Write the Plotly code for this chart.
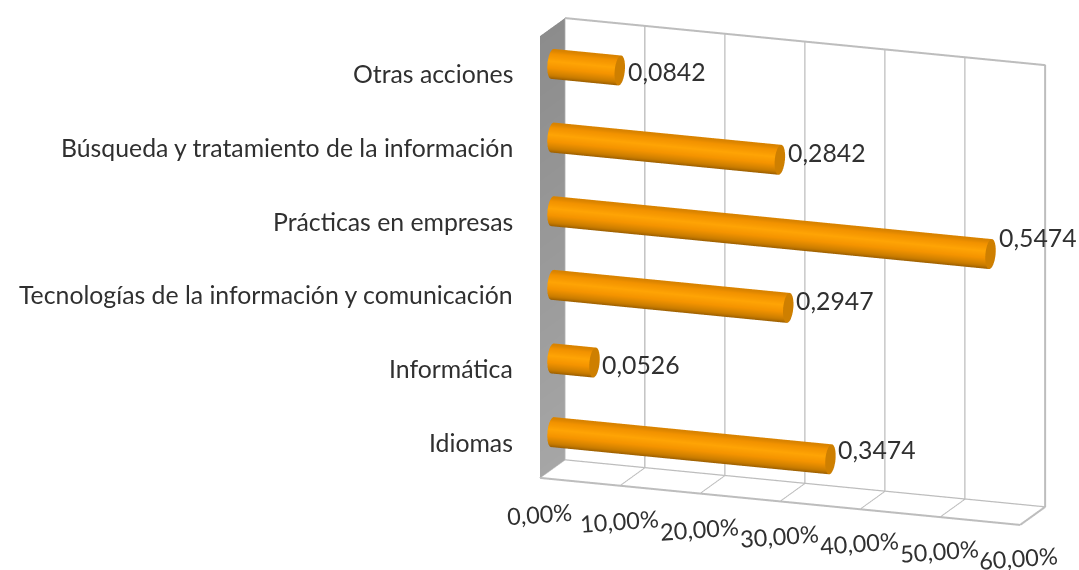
import numpy as np
import plotly.graph_objects as go

categories = ["Idiomas", "Informática", "Tecnologías de la información y comunicación",
              "Prácticas en empresas", "Búsqueda y tratamiento de la información", "Otras acciones"]
values = [0.3474, 0.0526, 0.2947, 0.5474, 0.2842, 0.0842]
value_labels = ["0,3474", "0,0526", "0,2947", "0,5474", "0,2842", "0,0842"]
x_ticks = [0, 0.1, 0.2, 0.3, 0.4, 0.5, 0.6]
x_tick_labels = ["0,00%", "10,00%", "20,00%", "30,00%", "40,00%", "50,00%", "60,00%"]

# camera / box geometry
THETA = np.radians(20.25)
ELEV = np.radians(15.4)
ASPECT = dict(x=1.796, y=0.2533, z=1.608)
DIST = 2.0
S_GUESS = 285.0
r_vec = np.array([np.cos(THETA), np.sin(THETA), 0])
u_vec = np.array([-np.sin(ELEV) * np.sin(THETA), np.sin(ELEV) * np.cos(THETA), np.cos(ELEV)])
center = -(253 / S_GUESS) * r_vec - (13.5 / S_GUESS) * u_vec
eye = np.array([np.sin(THETA) * np.cos(ELEV), -np.cos(THETA) * np.cos(ELEV), np.sin(ELEV)]) * DIST + center

R_D = 0.21   # cylinder radius in depth units
R_Z = 0.197  # cylinder radius in category units
SHADE = [[0, "#8f5600"], [0.22, "#c97c00"], [0.5, "#f59400"], [0.72, "#ffa405"], [0.92, "#f29200"], [1, "#d98300"]]
GRID = "#bdbdbd"


def cylinder(value, cat_index, n=48):
    a = np.linspace(0, 2 * np.pi, n, endpoint=False)
    yc, zc = 0.5 + R_D * np.cos(a), cat_index + 0.5 + R_Z * np.sin(a)
    xs = np.r_[np.zeros(n), np.full(n, value), np.full(n, value), [value]]
    ys = np.r_[yc, yc, yc, [0.5]]
    zs = np.r_[zc, zc, zc, [cat_index + 0.5]]
    body = 0.5 + 0.5 * np.sin(a)
    body = np.clip(body, 0, 1)
    inten = np.r_[body, body, np.full(n + 1, 0.25)]
    i, j, k = [], [], []
    for t in range(n):
        u = (t + 1) % n
        i += [t, u]
        j += [u, n + u]
        k += [n + t, n + t]
        i.append(2 * n + t)
        j.append(2 * n + u)
        k.append(3 * n)
    return go.Mesh3d(x=xs, y=ys, z=zs, i=i, j=j, k=k, intensity=inten, colorscale=SHADE, cmin=0, cmax=1,
                     showscale=False, hoverinfo="skip", flatshading=False,
                     lighting=dict(ambient=1, diffuse=0, specular=0, fresnel=0, roughness=1))


fig = go.Figure()
top = len(categories)
xmax = x_ticks[-1]
# shaded left wall
fig.add_trace(go.Mesh3d(x=[0, 0, 0, 0], y=[0, 1, 1, 0], z=[0, 0, top, top], i=[0, 0], j=[1, 2], k=[2, 3],
                        intensity=[0, 0, 1, 1], colorscale=[[0, "#a6a6a6"], [1, "#8c8c8c"]], cmin=0, cmax=1,
                        showscale=False, hoverinfo="skip",
                        lighting=dict(ambient=1, diffuse=0, specular=0, fresnel=0, roughness=1)))
frame_x = [0, xmax, xmax, None, 0, xmax, xmax, None, 0, xmax, None]
frame_y = [1, 1, 1, None, 1, 1, 0, None, 0, 0, None]
frame_z = [top, top, 0, None, 0, 0, 0, None, 0, 0, None]
fig.add_trace(go.Scatter3d(x=frame_x, y=frame_y, z=frame_z, mode="lines",
                           line=dict(color=GRID, width=4), hoverinfo="skip", showlegend=False))
for idx, v in enumerate(values):
    fig.add_trace(cylinder(v, idx))

annotations = []
font_main = dict(family="Lato, Carlito, sans-serif", size=24.8, color="#303030")
font_tick = dict(family="Lato, Carlito, sans-serif", size=23.5, color="#303030")
for idx, c in enumerate(categories):
    annotations.append(dict(x=0, y=0, z=idx + 0.5, text=c, showarrow=False, xanchor="right", yanchor="middle",
                            xshift=-25, yshift=-1, font=font_main))
for idx, (v, t) in enumerate(zip(values, value_labels)):
    annotations.append(dict(x=v, y=0.5, z=idx + 0.5, text=t, showarrow=False, xanchor="left", yanchor="middle",
                            xshift=6, yshift=38.4 * v - 4, font=font_main))
for tv, t in zip(x_ticks, x_tick_labels):
    annotations.append(dict(x=tv, y=0, z=0, text=t, showarrow=False, xanchor="center", yanchor="middle",
                            yshift=-36 + 5 * tv, xshift=-2 * tv, textangle=-4, font=font_tick))

hidden = dict(showticklabels=False, ticks="", title="", showspikes=False, zeroline=False, showline=False)
fig.update_layout(
    width=1079, height=570, margin=dict(l=0, r=0, t=0, b=0), showlegend=False, paper_bgcolor="white",
    scene=dict(
        domain=dict(x=[0, 1], y=[0, 1]),
        aspectmode="manual", aspectratio=ASPECT,
        camera=dict(projection=dict(type="orthographic"), up=dict(x=0, y=0, z=1),
                    eye=dict(x=eye[0], y=eye[1], z=eye[2]),
                    center=dict(x=center[0], y=center[1], z=center[2])),
        xaxis=dict(range=[0, xmax], tickvals=x_ticks, showgrid=True, gridcolor=GRID, gridwidth=3,
                   showbackground=False, **hidden),
        yaxis=dict(range=[0, 1], showgrid=False, showbackground=True, backgroundcolor="white", **hidden),
        zaxis=dict(range=[0, top], showgrid=False, showbackground=True, backgroundcolor="white", **hidden),
        annotations=annotations,
    ),
)
fig.write_html("out.html", config=dict(displayModeBar=False),
               post_script="document.body.style.margin='0';document.documentElement.style.overflow='hidden';")
